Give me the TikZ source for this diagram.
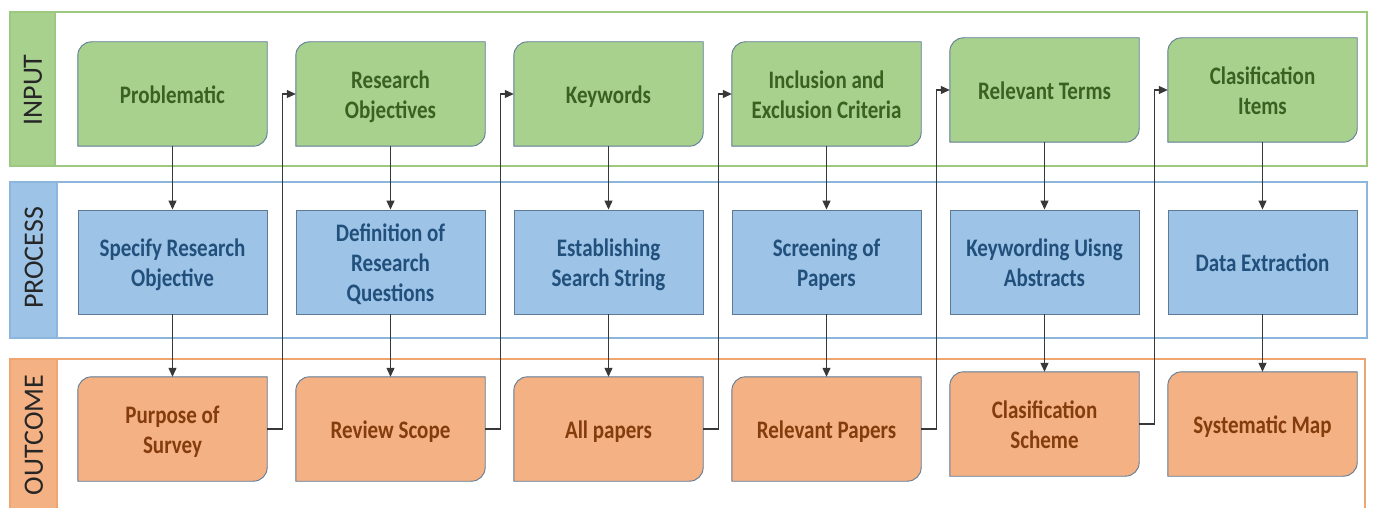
\documentclass[tikz,border=0pt]{standalone}
\usepackage{fontspec}
\setmainfont{Carlito}
\usetikzlibrary{arrows.meta,calc}

\definecolor{gfill}{HTML}{A9D18E}
\definecolor{bfill}{HTML}{9DC3E6}
\definecolor{ofill}{HTML}{F4B183}
\definecolor{gtext}{HTML}{3B6122}
\definecolor{btext}{HTML}{22507C}
\definecolor{otext}{HTML}{843C0C}
\definecolor{gline}{HTML}{9CC97F}
\definecolor{bline}{HTML}{8DB6DE}
\definecolor{oline}{HTML}{EFA56F}
\definecolor{edge}{HTML}{5E7A96}
\definecolor{wire}{HTML}{383838}
\definecolor{lbl}{HTML}{262626}

% box text: bold, a little taller than wide
\newcommand{\boxtxt}[1]{\scalebox{1}[1.2]{\begin{tabular}{@{}c@{}}#1\end{tabular}}}

\tikzset{
  slot/.style={rectangle, minimum width=189pt, minimum height=104pt, inner sep=0pt,
    font=\fontsize{21}{25}\selectfont\bfseries},
  inbox/.style={slot, text=gtext},
  prbox/.style={slot, draw=edge, line width=0.9pt, fill=bfill},
  outbox/.style={slot, text=otext},
  words/.style={slot, yshift=-3.5pt},
  lanelabel/.style={rotate=90, font=\fontsize{28}{30}\selectfont, text=lbl, inner sep=0pt},
  arr/.style={draw=wire, line width=1.1pt, -{Triangle[length=9pt,width=8pt]}},
}

% card outline with rounded top-left and bottom-right corners
\newcommand{\card}[2]{%
  \fill[#2] ($(#1.north west)+(0,14)$) .. controls ($(#1.north west)+(0,6)$) and ($(#1.north west)+(6,0)$) .. ($(#1.north west)+(14,0)$)
    -- (#1.north east) -- ($(#1.south east)+(0,-14)$)
    .. controls ($(#1.south east)+(0,-6)$) and ($(#1.south east)+(-6,0)$) .. ($(#1.south east)+(-14,0)$)
    -- (#1.south west) -- cycle;
  \draw[edge, line width=0.9pt] ($(#1.north west)+(0,14)$) .. controls ($(#1.north west)+(0,6)$) and ($(#1.north west)+(6,0)$) .. ($(#1.north west)+(14,0)$)
    -- (#1.north east) -- ($(#1.south east)+(0,-14)$)
    .. controls ($(#1.south east)+(0,-6)$) and ($(#1.south east)+(-6,0)$) .. ($(#1.south east)+(-14,0)$)
    -- (#1.south west) -- cycle;
}

\begin{document}
\begin{tikzpicture}[x=1pt, y=-1pt]
\useasboundingbox (0,0) rectangle (1373,508);
\clip (0,0) rectangle (1373,508);
\fill[white] (0,0) rectangle (1373,508);

% swim lanes
\draw[gline, line width=1.4pt] (10,12) rectangle (1367,166);
\fill[gfill] (10,12) rectangle (55,166);
\draw[gline, line width=1.4pt] (10,12) rectangle (55,166);
\draw[bline, line width=1.4pt] (10,182) rectangle (1367,338);
\fill[bfill] (10,182) rectangle (57,338);
\draw[bline, line width=1.4pt] (10,182) rectangle (57,338);
\draw[oline, line width=1.4pt] (10,359) rectangle (1365,530);
\fill[ofill] (10,359) rectangle (57,530);
\draw[oline, line width=1.4pt] (10,359) rectangle (57,530);

\node[lanelabel] (lIn)  at (33,90)  {INPUT};
\node[lanelabel] (lPr)  at (34,258) {PROCESS};
\node[lanelabel] (lOut) at (34,435) {OUTCOME};

% input row
\node[inbox] (in1) at (172.5,94) {};
\node[inbox] (in2) at (390.5,94) {};
\node[inbox] (in3) at (608.5,94) {};
\node[inbox] (in4) at (826.5,94) {};
\node[inbox] (in5) at (1044.5,90) {};
\node[inbox] (in6) at (1262.5,90) {};
% process row
\node[prbox] (pr1) at (172.5,262) {};
\node[prbox] (pr2) at (390.5,262) {};
\node[prbox] (pr3) at (608.5,262) {};
\node[prbox] (pr4) at (826.5,262) {};
\node[prbox] (pr5) at (1044.5,262) {};
\node[prbox] (pr6) at (1262.5,262) {};
% outcome row
\node[outbox] (out1) at (172.5,429) {};
\node[outbox] (out2) at (390.5,429) {};
\node[outbox] (out3) at (608.5,429) {};
\node[outbox] (out4) at (826.5,429) {};
\node[outbox] (out5) at (1044.5,424) {};
\node[outbox] (out6) at (1262.5,424) {};

\foreach \n in {in1,in2,in3,in4,in5,in6}{\card{\n}{gfill}}
\foreach \n in {out1,out2,out3,out4,out5,out6}{\card{\n}{ofill}}

% texts of the boxes
\node[words, text=gtext] (tin1) at (in1) {\boxtxt{Problematic}};
\node[words, text=gtext] (tin2) at (in2) {\boxtxt{Research\\Objectives}};
\node[words, text=gtext] (tin3) at (in3) {\boxtxt{Keywords}};
\node[words, text=gtext] (tin4) at (in4) {\boxtxt{Inclusion and\\Exclusion Criteria}};
\node[words, text=gtext] (tin5) at (in5) {\boxtxt{Relevant Terms}};
\node[words, text=gtext] (tin6) at (in6) {\boxtxt{Clasification\\Items}};

\node[words, text=btext] (tpr1) at (pr1) {\boxtxt{Specify Research\\Objective}};
\node[words, text=btext] (tpr2) at (pr2) {\boxtxt{Definition of\\Research\\Questions}};
\node[words, text=btext] (tpr3) at (pr3) {\boxtxt{Establishing\\Search String}};
\node[words, text=btext] (tpr4) at (pr4) {\boxtxt{Screening of\\Papers}};
\node[words, text=btext] (tpr5) at (pr5) {\boxtxt{Keywording Uisng\\Abstracts}};
\node[words, text=btext] (tpr6) at (pr6) {\boxtxt{Data Extraction}};

\node[words, text=otext] (tout1) at (out1) {\boxtxt{Purpose of\\Survey}};
\node[words, text=otext] (tout2) at (out2) {\boxtxt{Review Scope}};
\node[words, text=otext] (tout3) at (out3) {\boxtxt{All papers}};
\node[words, text=otext] (tout4) at (out4) {\boxtxt{Relevant Papers}};
\node[words, text=otext] (tout5) at (out5) {\boxtxt{Clasification\\Scheme}};
\node[words, text=otext] (tout6) at (out6) {\boxtxt{Systematic Map}};

% vertical flow
\foreach \i in {1,...,6}{
  \draw[arr] (in\i.south) -- (pr\i.north);
  \draw[arr] (pr\i.south) -- (out\i.north);
}
% outcome feeds the next input
\foreach \i/\j in {1/2,2/3,3/4,4/5,5/6}{
  \draw[arr] (out\i.east) -- ++(15,0) |- (in\j.west);
}
\end{tikzpicture}
\end{document}
